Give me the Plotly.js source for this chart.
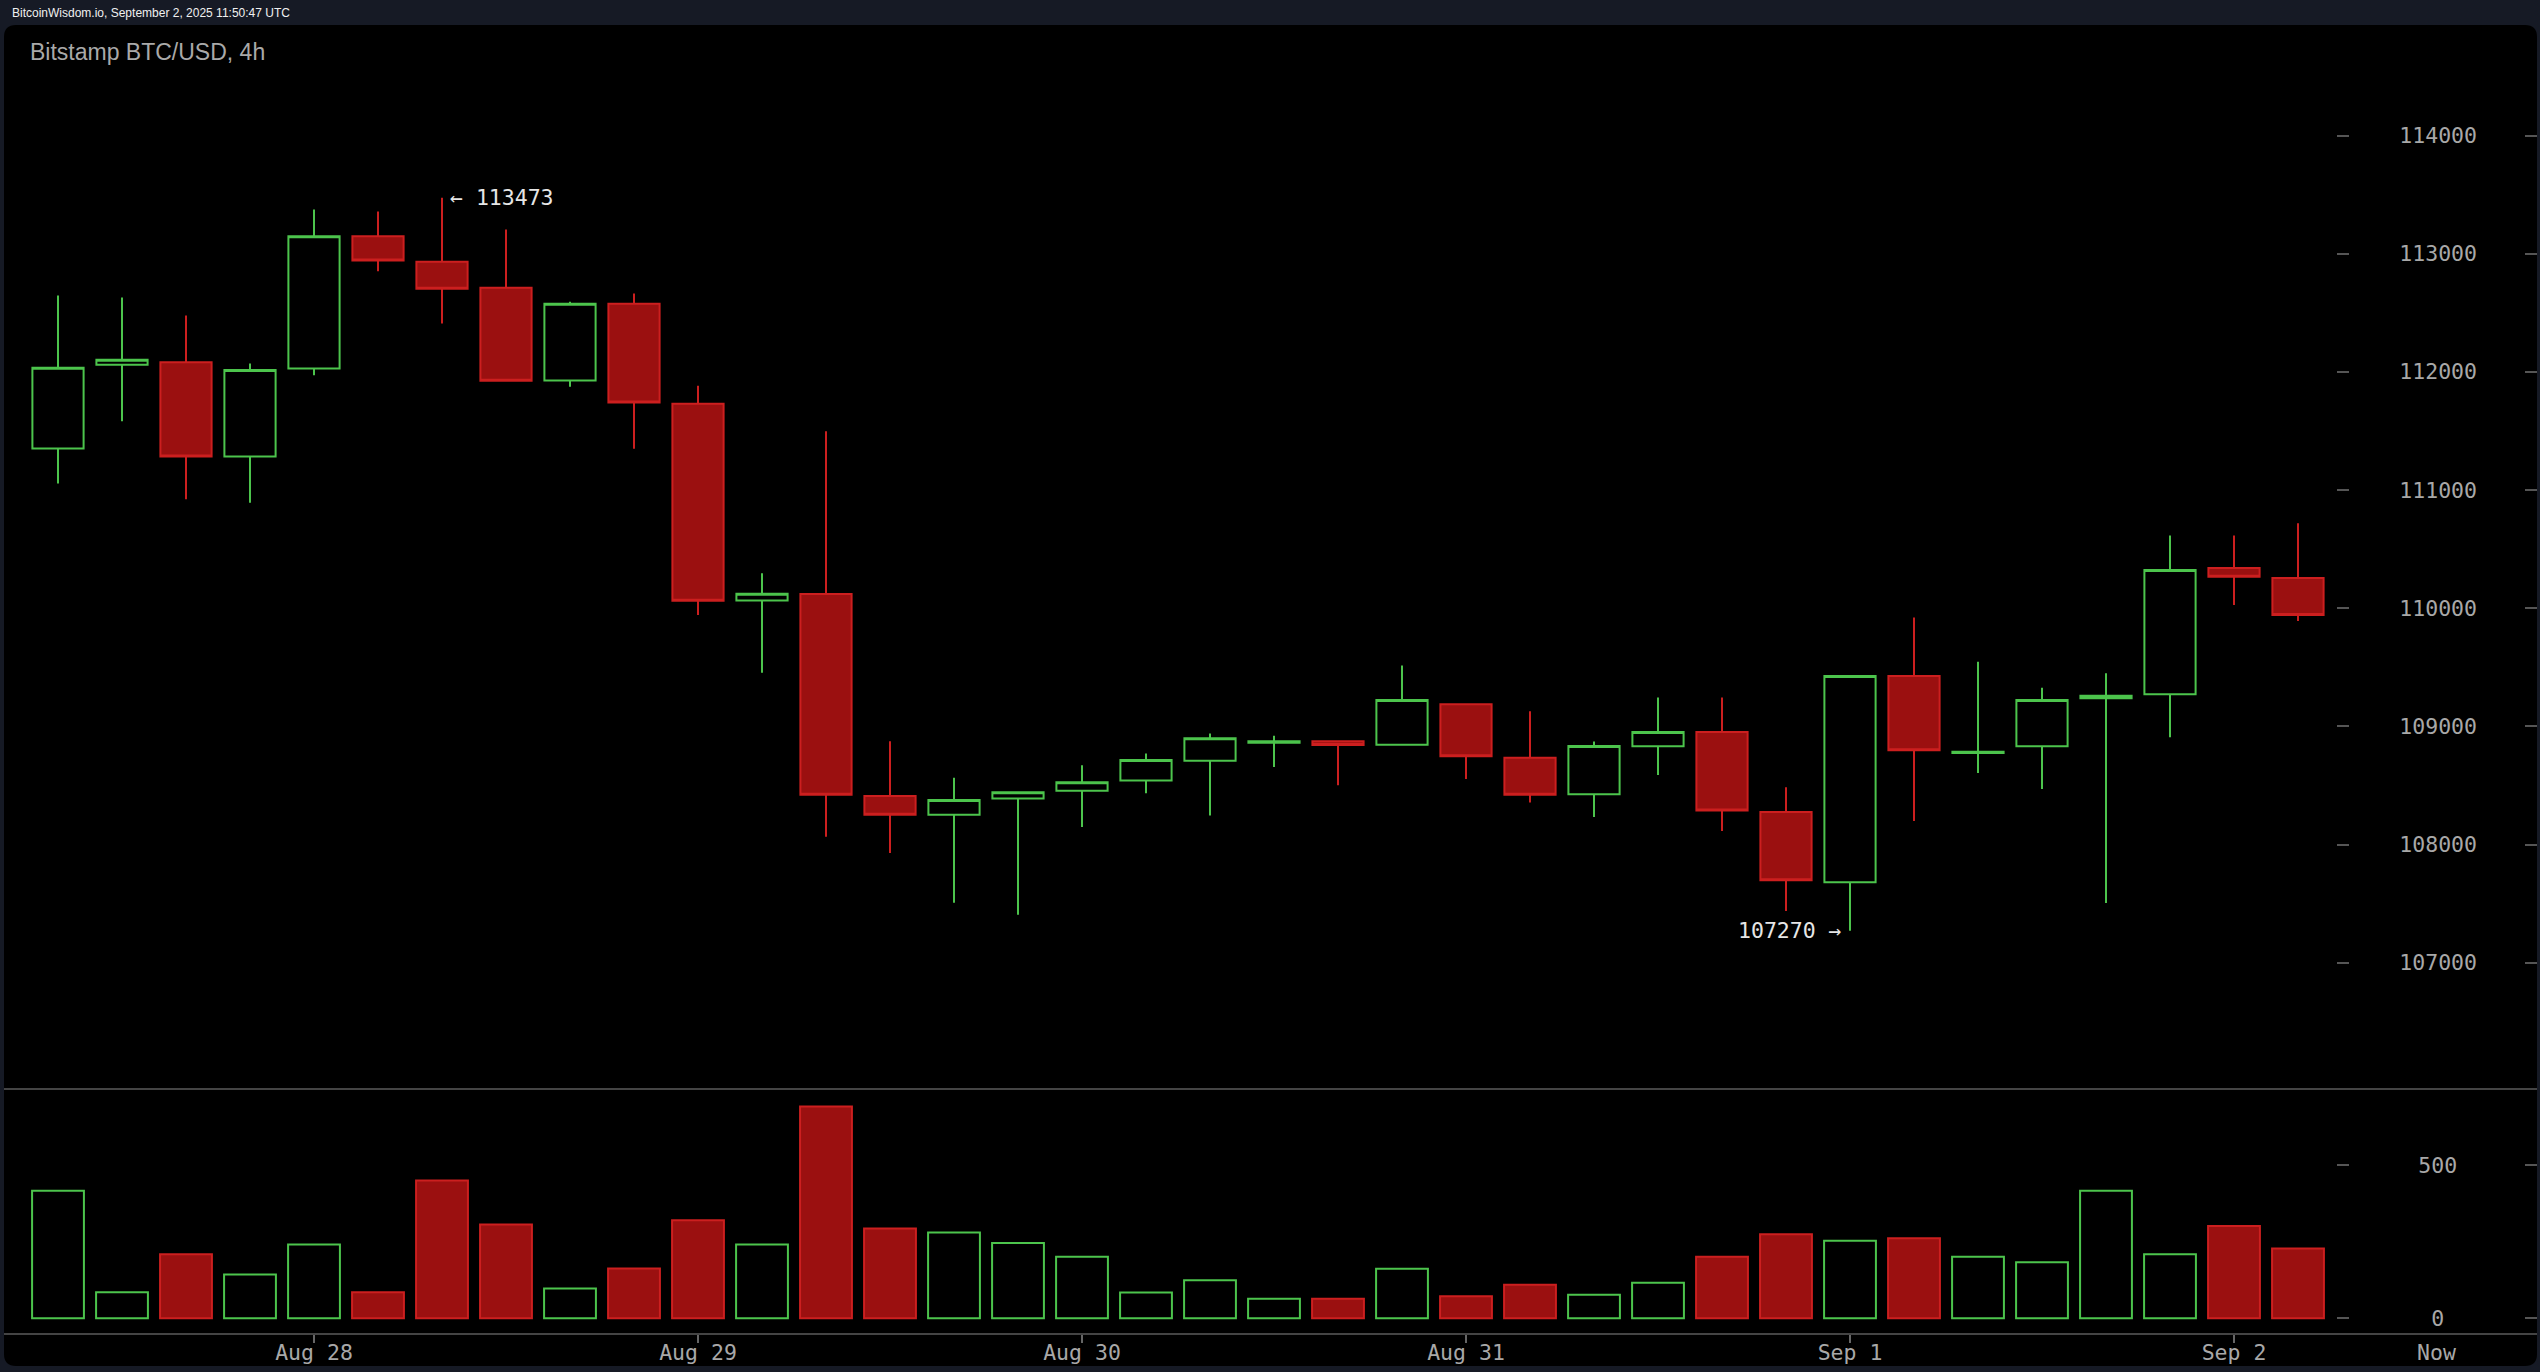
<!DOCTYPE html>
<html>
<head>
<meta charset="utf-8">
<script src="https://cdn.plot.ly/plotly-3.0.1.min.js"></script>
<style>
html,body{margin:0;padding:0;background:#161a25;}
#chart{width:2540px;height:1372px;}
</style>
</head>
<body>
<div id="chart"></div>
<script>
// ---- data ----
const times = [
  '2025-08-27 08:00','2025-08-27 12:00','2025-08-27 16:00','2025-08-27 20:00',
  '2025-08-28 00:00','2025-08-28 04:00','2025-08-28 08:00','2025-08-28 12:00','2025-08-28 16:00','2025-08-28 20:00',
  '2025-08-29 00:00','2025-08-29 04:00','2025-08-29 08:00','2025-08-29 12:00','2025-08-29 16:00','2025-08-29 20:00',
  '2025-08-30 00:00','2025-08-30 04:00','2025-08-30 08:00','2025-08-30 12:00','2025-08-30 16:00','2025-08-30 20:00',
  '2025-08-31 00:00','2025-08-31 04:00','2025-08-31 08:00','2025-08-31 12:00','2025-08-31 16:00','2025-08-31 20:00',
  '2025-09-01 00:00','2025-09-01 04:00','2025-09-01 08:00','2025-09-01 12:00','2025-09-01 16:00','2025-09-01 20:00',
  '2025-09-02 00:00','2025-09-02 04:00'
];
const opens  = [111352,112060,112082,111284,112029,113148,112931,112711,111927,112576,
                111730,110066,110121,108411,108252,108389,108456,108541,108709,108861,
                108874,108845,109188,108735,108425,108831,108952,108275,107680,109426,
                108775,108831,109237,109271,110340,110255];
const highs  = [112646,112629,112477,112071,113374,113357,113473,113205,112593,112663,
                111882,110295,111497,108874,108566,108450,108670,108771,108939,108920,
                108878,109515,109195,109127,108871,109245,109245,108484,109430,109922,
                109547,109327,109449,110616,110616,110718];
const lows   = [111056,111583,110921,110893,111972,112852,112410,111920,111874,111349,
                109942,109454,108065,107929,107508,107405,108149,108434,108246,108657,
                108502,108840,108554,108355,108233,108588,108115,107438,107270,108199,
                108605,108470,107505,108907,110026,109891];
const closes = [112035,112102,111284,112015,113148,112942,112703,111925,112576,111741,
                110063,110123,108421,108252,108376,108443,108528,108716,108900,108874,
                108842,109224,108746,108422,108833,108952,108287,107697,109426,108797,
                108785,109223,109260,110323,110267,109942];
const volumes = [416,85,209,143,241,85,450,306,97,163,
                 320,241,691,293,280,246,201,84,124,64,
                 64,162,72,110,77,116,201,274,253,261,
                 201,183,416,209,301,228];
const dayTicks = ['2025-08-28','2025-08-29','2025-08-30','2025-08-31','2025-09-01','2025-09-02'];
const priceTicks = [107000,108000,109000,110000,111000,112000,113000,114000];
const volumeTicks = [0,500];
const headerText = 'BitcoinWisdom.io, September 2, 2025 11:50:47 UTC';
const titleText = 'Bitstamp BTC/USD, 4h';

// ---- styling ----
const W = 2540, H = 1372;
const GREEN = '#4cc44c', RED_LINE = '#cc1f1f', RED_FILL = '#9b1010';
const NAVY = '#161a25';
const MONO = 'DejaVu Sans Mono, monospace';
const LABEL = '#a8a8a8';
const px = v => v / W;
const py = v => 1 - v / H;

const xRange = ['2025-08-27 04:22:30', '2025-09-02 06:22:30'];
const priceRange = [105931, 114944];
const volRange = [-51, 748];
const plotRight = px(2336);
const priceDomain = [py(1089), py(24)];
const volDomain = [py(1334), py(1089)];

const up = closes.map((c, i) => c >= opens[i]);

const candle = {
  type: 'candlestick', x: times, open: opens, high: highs, low: lows, close: closes,
  xaxis: 'x', yaxis: 'y',
  increasing: {line: {color: GREEN, width: 2}, fillcolor: '#000000'},
  decreasing: {line: {color: RED_LINE, width: 2}, fillcolor: RED_FILL},
  whiskerwidth: 0, hoverinfo: 'skip', showlegend: false
};
const vol = {
  type: 'bar', x: times, y: volumes, xaxis: 'x2', yaxis: 'y2',
  marker: {color: up.map(u => u ? '#000000' : RED_FILL),
           line: {color: up.map(u => u ? GREEN : RED_LINE), width: 2}},
  hoverinfo: 'skip', showlegend: false
};
const dummy3 = {type: 'scatter', x: [], y: [], xaxis: 'x', yaxis: 'y3', showlegend: false};
const dummy4 = {type: 'scatter', x: [], y: [], xaxis: 'x2', yaxis: 'y4', showlegend: false};

let iMax = 0, iMin = 0;
highs.forEach((h, i) => { if (h > highs[iMax]) iMax = i; });
lows.forEach((l, i) => { if (l < lows[iMin]) iMin = i; });

const tickStyle = {
  ticks: 'outside', ticklen: 12, tickwidth: 2, tickcolor: '#555',
  tickfont: {family: MONO, size: 21.5, color: LABEL},
  showgrid: false, zeroline: false, showline: false
};
const mirrorStyle = {
  ticks: 'inside', ticklen: 12, tickwidth: 2, tickcolor: '#555',
  showticklabels: false, showgrid: false, zeroline: false, showline: false,
  anchor: 'free', position: px(2537), side: 'right'
};

// volume labels centred in a 3-character column
const volumeText = volumeTicks.map(v => '\u00a0'.repeat(Math.floor((3 - String(v).length) / 2)) + v);

const r = 12, rx = r / W, ry = r / H;
const x0 = px(4), x1 = px(2537), yT = py(25), yB = py(1366);
const panelPath = `M ${x0 + rx} ${yT} L ${x1 - rx} ${yT} Q ${x1} ${yT} ${x1} ${yT - ry} ` +
  `L ${x1} ${yB + ry} Q ${x1} ${yB} ${x1 - rx} ${yB} L ${x0 + rx} ${yB} Q ${x0} ${yB} ${x0} ${yB + ry} ` +
  `L ${x0} ${yT - ry} Q ${x0} ${yT} ${x0 + rx} ${yT} Z`;

const layout = {
  width: W, height: H,
  margin: {l: 0, r: 0, t: 0, b: 0, pad: 0},
  paper_bgcolor: NAVY, plot_bgcolor: 'rgba(0,0,0,0)',
  showlegend: false, bargap: 0.19, boxgap: 0.2, boxgroupgap: 0,
  title: {text: titleText, x: px(30), xanchor: 'left', y: py(52), yanchor: 'middle',
          font: {family: 'Liberation Sans, Arial, sans-serif', size: 23, color: '#a9a9a9'}},
  xaxis: {type: 'date', domain: [0, plotRight], range: xRange, anchor: 'y',
          showticklabels: false, ticks: '', showgrid: false, zeroline: false,
          rangeslider: {visible: false}},
  xaxis2: {type: 'date', domain: [0, plotRight], range: xRange, anchor: 'y2',
           tickvals: dayTicks, tickformat: '%b %-d',
           ticks: 'outside', ticklen: 8, tickwidth: 1.5, tickcolor: '#666',
           ticklabelstandoff: -9,
           tickfont: {family: MONO, size: 21.5, color: LABEL},
           showgrid: false, zeroline: false, showline: false},
  yaxis: Object.assign({domain: priceDomain, range: priceRange, anchor: 'x', side: 'right',
                        tickvals: priceTicks, tickformat: 'd', ticklabelstandoff: 46}, tickStyle),
  yaxis2: Object.assign({domain: volDomain, range: volRange, anchor: 'x2', side: 'right',
                         tickvals: volumeTicks, ticktext: volumeText, ticklabelstandoff: 65}, tickStyle),
  yaxis3: Object.assign({overlaying: 'y', range: priceRange, tickvals: priceTicks}, mirrorStyle),
  yaxis4: Object.assign({overlaying: 'y2', range: volRange, tickvals: volumeTicks}, mirrorStyle),
  shapes: [
    {type: 'path', xref: 'paper', yref: 'paper', path: panelPath,
     fillcolor: '#000000', line: {width: 0}, layer: 'below'},
    {type: 'line', xref: 'paper', yref: 'paper', x0: px(4), x1: px(2537), y0: py(1089), y1: py(1089),
     line: {color: '#444', width: 2}},
    {type: 'line', xref: 'paper', yref: 'paper', x0: px(4), x1: px(2537), y0: py(1334), y1: py(1334),
     line: {color: '#444', width: 2}}
  ],
  annotations: [
    {xref: 'paper', yref: 'paper', x: px(10), y: py(13), xanchor: 'left', yanchor: 'middle',
     text: headerText, showarrow: false,
     font: {family: 'Liberation Sans, Arial, sans-serif', size: 12, color: '#f0f0f0'}},
    {xref: 'paper', yref: 'paper', x: px(2436), y: py(1352), xanchor: 'center', yanchor: 'middle',
     text: 'Now', showarrow: false, font: {family: MONO, size: 21.5, color: LABEL}},
    {xref: 'x', yref: 'y', x: times[iMax], y: highs[iMax], xanchor: 'left', yanchor: 'middle',
     xshift: 6, text: '← ' + highs[iMax], showarrow: false,
     font: {family: MONO, size: 21.5, color: '#e6e6e6'}},
    {xref: 'x', yref: 'y', x: times[iMin], y: lows[iMin], xanchor: 'right', yanchor: 'middle',
     xshift: -6, text: lows[iMin] + ' →', showarrow: false,
     font: {family: MONO, size: 21.5, color: '#e6e6e6'}}
  ]
};

Plotly.newPlot('chart', [vol, candle, dummy3, dummy4], layout, {staticPlot: true, displayModeBar: false});
</script>
</body>
</html>
